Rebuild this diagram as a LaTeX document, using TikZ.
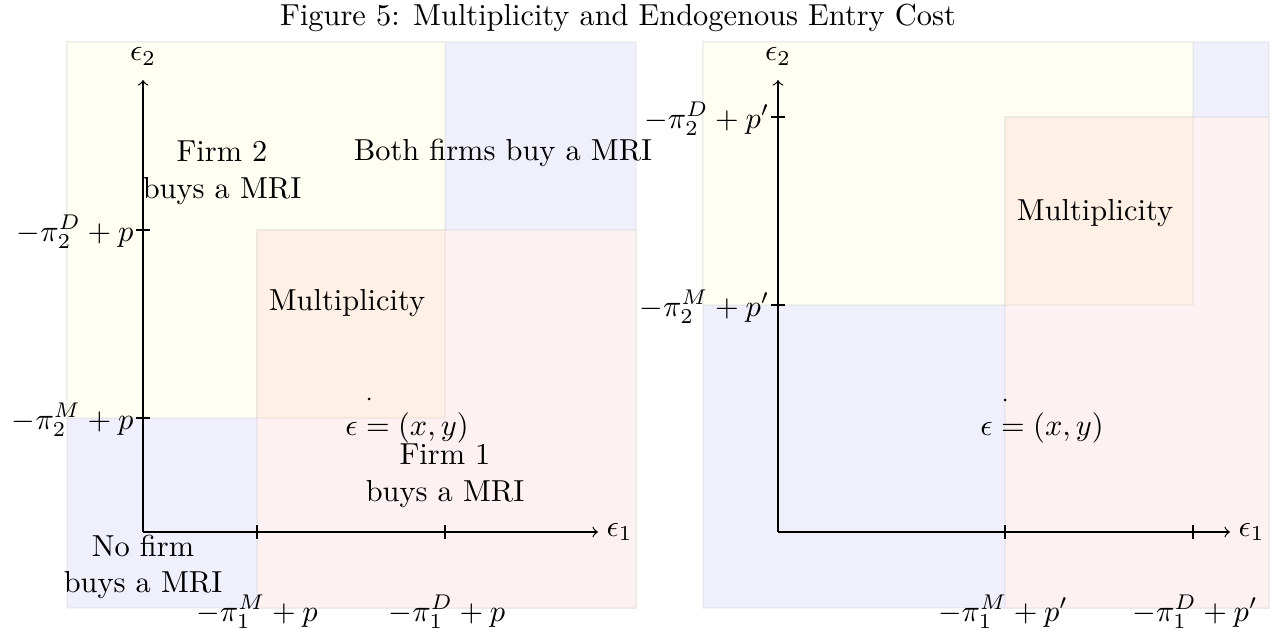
\documentclass[tikz,border=0pt]{standalone}
\usepackage{amsmath}
\definecolor{bgblue}{RGB}{240,240,252}
\definecolor{fyellow}{RGB}{254,254,242}
\definecolor{fpink}{RGB}{254,241,241}
\definecolor{fmult}{RGB}{254,240,229}
\begin{document}
\begin{tikzpicture}[x=0.329pt,y=-0.329pt,
  region/.style={draw=black,draw opacity=0.04,line width=0.4pt},
  axisline/.style={->,line width=0.4pt,black},
  tickmark/.style={line width=0.4pt,black},
  lbl/.style={inner sep=0pt,align=center},
  ptdot/.style={fill=black}]
\useasboundingbox (0,0) rectangle (1276,630);
\node[lbl] (title) at (618,18) {Figure 5: Multiplicity and Endogenous Entry Cost};
% ---------- left panel ----------
\filldraw[region,fill=bgblue] (67,42) rectangle (636,608);
\filldraw[region,fill=fyellow] (67,42) rectangle (445,418);
\filldraw[region,fill=fpink] (257,230) rectangle (636,608);
\filldraw[region,fill=fmult] (257,230) rectangle (445,418);
\coordinate (LO) at (143,532);
\coordinate (LY) at (143,80);
\coordinate (LX) at (598,532);
\draw[axisline] (LO) -- (LY);
\draw[axisline] (LO) -- (LX);
\node[lbl,anchor=south] (le2) at (143,66) {$\epsilon_2$};
\node[lbl,anchor=west] (le1) at (606,532) {$\epsilon_1$};
\coordinate (Lt1) at (257,532);
\coordinate (Lt2) at (445,532);
\coordinate (Lt3) at (143,230);
\coordinate (Lt4) at (143,418);
\draw[tickmark] ([yshift=-2.3pt]Lt1) -- ([yshift=2.3pt]Lt1);
\draw[tickmark] ([yshift=-2.3pt]Lt2) -- ([yshift=2.3pt]Lt2);
\draw[tickmark] ([xshift=-2.3pt]Lt3) -- ([xshift=2.3pt]Lt3);
\draw[tickmark] ([xshift=-2.3pt]Lt4) -- ([xshift=2.3pt]Lt4);
\node[lbl] (lx1) at (257,612) {$-\pi_1^M+p$};
\node[lbl] (lx2) at (447,612) {$-\pi_1^D+p$};
\node[lbl,anchor=east] (ly1) at (134,232) {$-\pi_2^D+p$};
\node[lbl,anchor=east] (ly2) at (134,420) {$-\pi_2^M+p$};
\node[lbl] (lf2) at (222,173) {Firm 2\\buys a MRI};
\node[lbl] (lboth) at (503,153) {Both firms buy a MRI};
\node[lbl] (lmult) at (347,303) {Multiplicity};
\fill[ptdot] (369,399) circle (1.5);
\node[lbl] (leps) at (407,428) {$\epsilon=(x,y)$};
\node[lbl] (lf1) at (445,476) {Firm 1\\buys a MRI};
\node[lbl] (lno) at (143,567) {No firm\\buys a MRI};
% ---------- right panel ----------
\filldraw[region,fill=bgblue] (703,42) rectangle (1269,608);
\filldraw[region,fill=fyellow] (703,42) rectangle (1193,305);
\filldraw[region,fill=fpink] (1005,117) rectangle (1269,608);
\filldraw[region,fill=fmult] (1005,117) rectangle (1193,305);
\coordinate (RO) at (778,532);
\coordinate (RY) at (778,80);
\coordinate (RX) at (1230,532);
\draw[axisline] (RO) -- (RY);
\draw[axisline] (RO) -- (RX);
\node[lbl,anchor=south] (re2) at (778,66) {$\epsilon_2$};
\node[lbl,anchor=west] (re1) at (1238,532) {$\epsilon_1$};
\coordinate (Rt1) at (1005,532);
\coordinate (Rt2) at (1193,532);
\coordinate (Rt3) at (778,117);
\coordinate (Rt4) at (778,305);
\draw[tickmark] ([yshift=-2.3pt]Rt1) -- ([yshift=2.3pt]Rt1);
\draw[tickmark] ([yshift=-2.3pt]Rt2) -- ([yshift=2.3pt]Rt2);
\draw[tickmark] ([xshift=-2.3pt]Rt3) -- ([xshift=2.3pt]Rt3);
\draw[tickmark] ([xshift=-2.3pt]Rt4) -- ([xshift=2.3pt]Rt4);
\node[lbl] (rx1) at (1003,612) {$-\pi_1^M+p'$};
\node[lbl] (rx2) at (1195,612) {$-\pi_1^D+p'$};
\node[lbl,anchor=east] (ry1) at (770,119) {$-\pi_2^D+p'$};
\node[lbl,anchor=east] (ry2) at (770,307) {$-\pi_2^M+p'$};
\node[lbl] (rmult) at (1095,213) {Multiplicity};
\fill[ptdot] (1005,400) circle (1.5);
\node[lbl] (reps) at (1042,428) {$\epsilon=(x,y)$};
\end{tikzpicture}
\end{document}
